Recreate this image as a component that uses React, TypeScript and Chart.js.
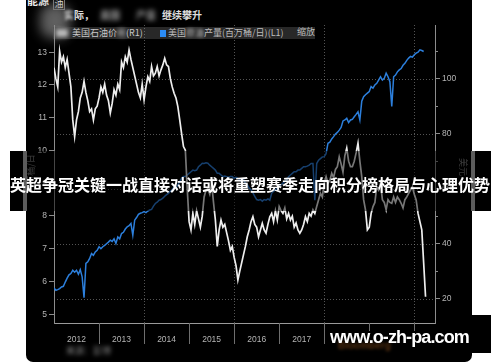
import React, { useEffect, useRef } from 'react';
import { Chart, registerables } from 'chart.js';

Chart.register(...registerables);

// ---- data (semi-monthly samples starting Jan 2012) ----
const START_YEAR = 2012;
const STEPS_PER_YEAR = 24;

// US oil price, USD (right axis, R1)
const oilPrice: number[] = [
  104, 100, 97, 110, 106, 108, 104, 107, 102, 97, 85, 79, 85, 88, 93, 95, 99, 95, 92, 88, 89, 85, 89, 90,
  93, 97, 95, 98, 94, 92, 87.5, 91, 96, 94, 98, 96, 106, 104, 108, 106, 110.4, 107, 104, 101, 98, 95, 93, 98,
  92.3, 97, 100.7, 99, 104.4, 101, 102, 104.4, 101, 103.2, 105, 107.4, 105, 104.4, 100, 97, 94.7, 93, 89.8, 85, 80, 75.3, 74, 60,
  48, 45, 51, 47, 52, 49, 46, 50, 57, 59.5, 60, 58, 62, 55, 48.6, 39, 45, 48.6, 46, 47, 44, 41, 37.6, 39,
  35, 32, 26.8, 30, 33, 36, 39, 42.5, 45, 48, 49.8, 47, 46, 42.5, 45, 47.4, 45, 43.8, 47, 49.8, 51, 48, 52, 48.6,
  53.5, 52, 51, 53, 49, 51, 48.6, 50, 46, 47.5, 45, 43.8, 45, 47, 49.8, 48, 51, 50, 52.3, 51, 53.5, 56, 58.3, 57,
  62, 64.4, 62, 63, 65.6, 64, 67, 68, 71.6, 69, 66, 72, 74.7, 70, 68, 68, 70, 73, 76.5, 70, 64.4, 56, 52.3, 45,
  46, 51, 53.5, 55, 60.7, 59.5, 62, 56, 55, 52.3, 56, 55, 54.7, 57, 55, 57, 56, 54.7, 53, 56, 57, 58.3, 59.5, 60.7,
  58, 55.9, 51, 48, 45, 33, 20.7,
];

// US crude output, million barrels/day (left axis, L1)
const crudeOutput: number[] = [
  5.8, 5.73, 5.75, 5.78, 5.83, 5.85, 5.98, 6.1, 6.2, 6.24, 6.34, 6.28, 6.34, 6.22, 6.36, 6.14, 5.5, 6.55, 6.6, 6.7, 6.85, 6.8, 6.9, 6.95,
  7.06, 7.0, 7.06, 7.1, 7.15, 7.2, 7.26, 7.22, 7.3, 7.16, 7.36, 7.3, 7.46, 7.5, 7.6, 7.67, 7.7, 7.77, 7.41, 7.87, 7.95, 8.05, 8.08, 8.1,
  8.13, 8.1, 8.15, 8.18, 8.2, 8.3, 8.38, 8.42, 8.48, 8.5, 8.54, 8.6, 8.65, 8.69, 8.75, 8.8, 8.89, 8.85, 8.95, 9.05, 9.15, 9.2, 9.2, 9.25,
  9.3, 9.35, 9.4, 9.38, 9.4, 9.5, 9.55, 9.61, 9.6, 9.62, 9.61, 9.55, 9.5, 9.45, 9.4, 9.3, 9.3, 9.25, 9.2, 9.22, 9.2, 9.18, 9.2, 9.2,
  9.15, 9.18, 9.15, 9.1, 9.05, 9.1, 9.0, 8.95, 8.85, 8.8, 8.7, 8.6, 8.5, 8.48, 8.5, 8.45, 8.5, 8.48, 8.52, 8.48, 8.69, 8.75, 8.8, 8.85,
  8.9, 8.95, 9.0, 9.05, 9.1, 9.2, 9.25, 9.3, 9.35, 9.35, 9.4, 9.4, 9.45, 9.5, 9.5, 9.52, 9.55, 9.6, 9.6, 8.48, 9.6, 9.7, 9.75, 9.8,
  9.81, 9.9, 10.22, 10.25, 10.35, 10.42, 10.5, 10.55, 10.62, 10.7, 10.9, 10.93, 10.98, 10.85, 10.93, 10.95, 11.03, 11.1, 11.18, 10.93, 11.5, 11.64, 11.7, 11.75,
  11.8, 11.95, 11.9, 12.0, 12.05, 12.15, 12.25, 12.15, 12.2, 12.36, 12.25, 12.1, 11.34, 12.25, 12.3, 12.4, 12.46, 12.5, 12.6, 12.66, 12.75, 12.82, 12.87, 12.85,
  12.92, 12.97, 13.0, 13.07, 13.05, 13.02,
];

const yearLabels = ['2012', '2013', '2014', '2015', '2016', '2017', '2018', '2019'];
const leftTicks = [5, 6, 7, 8, 9, 10, 11, 12, 13];
const rightTicks = [20, 40, 60, 80, 100];
const rightMinorTicks = [30, 50, 70, 90, 110];
const gridYears = [2014, 2016, 2018, 2020];
const separatorYears = [2013, 2014, 2015, 2016, 2017, 2018, 2019, 2020];

const AXIS_GRAY = '#8c8c8c';
const LABEL_GRAY = '#b4b4b4';
const tickFont = { family: '"Liberation Sans", Arial, sans-serif', size: 8.5 };

const decorPlugin = {
  id: 'decor',
  beforeDatasetsDraw(chart: any) {
    const { ctx, chartArea: a, scales } = chart;
    const xs = scales.x;
    const yR = scales.yR;
    ctx.save();
    ctx.strokeStyle = 'rgba(140,140,140,0.6)';
    ctx.lineWidth = 1;
    ctx.setLineDash([1, 2]);
    rightTicks.forEach((v) => {
      const py = Math.round(yR.getPixelForValue(v)) + 0.5;
      ctx.beginPath();
      ctx.moveTo(a.left, py);
      ctx.lineTo(a.right, py);
      ctx.stroke();
    });
    gridYears.forEach((yr) => {
      const px = Math.round(xs.getPixelForValue(yr)) + 0.5;
      ctx.beginPath();
      ctx.moveTo(px, a.top);
      ctx.lineTo(px, a.bottom);
      ctx.stroke();
    });
    ctx.restore();
  },
  afterDraw(chart: any) {
    const { ctx, chartArea: a, scales } = chart;
    const xs = scales.x;
    const yR = scales.yR;
    ctx.save();
    ctx.strokeStyle = AXIS_GRAY;
    ctx.lineWidth = 1;
    ctx.setLineDash([]);
    rightMinorTicks.forEach((v) => {
      const py = Math.round(yR.getPixelForValue(v)) + 0.5;
      ctx.beginPath();
      ctx.moveTo(a.right, py);
      ctx.lineTo(a.right + 3, py);
      ctx.stroke();
    });
    ctx.strokeStyle = '#6e6e6e';
    separatorYears.forEach((yr) => {
      const px = Math.round(xs.getPixelForValue(yr)) + 0.5;
      ctx.beginPath();
      ctx.moveTo(px, a.bottom);
      ctx.lineTo(px, a.bottom + 21);
      ctx.stroke();
    });
    ctx.restore();
  },
};

function ChartCanvas() {
  const ref = useRef<HTMLCanvasElement | null>(null);
  useEffect(() => {
    if (!ref.current) return;
    const toPoints = (arr: number[]) =>
      arr.map((v, i) => ({ x: START_YEAR + i / STEPS_PER_YEAR, y: v }));
    const chart = new Chart(ref.current, {
      type: 'line',
      data: {
        datasets: [
          {
            label: '美国石油价格(R1)',
            data: toPoints(oilPrice),
            yAxisID: 'yR',
            borderColor: '#eeeeee',
            borderWidth: 1.7,
            pointRadius: 0,
            tension: 0,
          },
          {
            label: '美国原油产量(百万桶/日)(L1)',
            data: toPoints(crudeOutput),
            yAxisID: 'yL',
            borderColor: '#2c7fdc',
            borderWidth: 1.5,
            pointRadius: 0,
            tension: 0,
          },
        ],
      },
      options: {
        animation: false,
        responsive: false,
        maintainAspectRatio: false,
        layout: { padding: { top: 25, left: 0, right: 0, bottom: 0 } },
        plugins: { legend: { display: false }, tooltip: { enabled: false } },
        scales: {
          x: {
            type: 'linear',
            min: 2012,
            max: 2020.46,
            afterFit: (s: any) => {
              s.height = 39;
            },
            afterBuildTicks: (s: any) => {
              s.ticks = yearLabels.map((_, i) => ({ value: START_YEAR + 0.5 + i }));
            },
            ticks: {
              autoSkip: false,
              maxRotation: 0,
              padding: 12,
              color: LABEL_GRAY,
              font: tickFont,
              callback: (_v: any, i: number) => yearLabels[i],
            },
            grid: { display: false, drawTicks: false },
            border: { display: true, color: '#9a9a9a', width: 1 },
          },
          yL: {
            type: 'linear',
            position: 'left',
            min: 4.73,
            max: 13.83,
            afterFit: (s: any) => {
              s.width = 54;
            },
            afterBuildTicks: (s: any) => {
              s.ticks = leftTicks.map((v) => ({ value: v }));
            },
            ticks: { color: LABEL_GRAY, font: tickFont, padding: 2 },
            grid: { drawOnChartArea: false, tickLength: 5, color: AXIS_GRAY },
            border: { display: true, color: AXIS_GRAY, width: 1 },
          },
          yR: {
            type: 'linear',
            position: 'right',
            min: 11.16,
            max: 119.5,
            afterFit: (s: any) => {
              s.width = 65;
            },
            afterBuildTicks: (s: any) => {
              s.ticks = rightTicks.map((v) => ({ value: v }));
            },
            ticks: { color: LABEL_GRAY, font: tickFont, padding: 2 },
            grid: { drawOnChartArea: false, tickLength: 5, color: AXIS_GRAY },
            border: { display: true, color: AXIS_GRAY, width: 1 },
          },
        },
      },
      plugins: [decorPlugin],
    });
    return () => chart.destroy();
  }, []);
  return <canvas ref={ref} width={500} height={362} style={{ display: 'block', width: 500, height: 362 }} />;
}

const cjk = '"Noto Sans CJK SC", "Noto Sans", sans-serif';
const abs = (s: React.CSSProperties): React.CSSProperties => ({ position: 'absolute', ...s });

export default function App() {
  return (
    <div style={abs({ left: 0, top: 0, width: 500, height: 362, overflow: 'hidden', background: '#fff' })}>
      {/* dark panel */}
      <div style={abs({ left: 26, top: 0, width: 446, height: 362, background: '#000', borderRadius: '0 0 7px 7px' })} />

      {/* top title (partly blurred in source) */}
      <div style={abs({ left: 27, top: -8, color: '#eee', fontFamily: cjk, fontSize: 11, fontWeight: 700, whiteSpace: 'nowrap' })}>能源</div>
      <div style={abs({ left: 53, top: -3, width: 10, height: 11, border: '1px solid #777', color: '#eee', fontFamily: cjk, fontSize: 9, lineHeight: '11px', textAlign: 'center' })}>油</div>
      <div style={abs({ left: 40, top: 4, width: 30, height: 34, background: '#777', borderRadius: 12, filter: 'blur(6px)', opacity: 0.8 })} />
      <div style={abs({ left: 64, top: 8, color: '#ddd', fontFamily: cjk, fontSize: 10, fontWeight: 700, whiteSpace: 'nowrap', lineHeight: '14px' })}>
        <span style={{ filter: 'blur(1.5px)' }}>实</span>际，
      </div>
      <div style={abs({ left: 100, top: 8, color: '#aaa', fontFamily: cjk, fontSize: 10, fontWeight: 700, whiteSpace: 'nowrap', lineHeight: '14px', filter: 'blur(2.5px)' })}>美国</div>
      <div style={abs({ left: 136, top: 8, color: '#999', fontFamily: cjk, fontSize: 10, fontWeight: 700, whiteSpace: 'nowrap', lineHeight: '14px', filter: 'blur(2.5px)' })}>产量</div>
      <div style={abs({ left: 162, top: 8, color: '#ddd', fontFamily: cjk, fontSize: 10, fontWeight: 700, whiteSpace: 'nowrap', lineHeight: '14px' })}>继续攀升</div>

      {/* legend strip */}
      <div style={abs({ left: 53, top: 27, width: 262, height: 12, background: 'rgba(72,72,72,0.55)' })} />
      <div style={abs({ left: 56, top: 29, width: 12, height: 8, background: '#bbb', filter: 'blur(2px)' })} />
      <div style={abs({ left: 72, top: 27, color: '#c8c8c8', fontFamily: cjk, fontSize: 9, lineHeight: '12px', whiteSpace: 'nowrap' })}>
        美国石油价<span style={{ filter: 'blur(2px)' }}>格</span>(R1)
      </div>
      <div style={abs({ left: 160, top: 30, width: 6, height: 7, background: '#2b8cf5' })} />
      <div style={abs({ left: 168, top: 27, color: '#bdbdbd', fontFamily: cjk, fontSize: 9, lineHeight: '12px', whiteSpace: 'nowrap' })}>
        美国<span style={{ filter: 'blur(1.5px)' }}>原油</span>产量(百万桶/日)(L1)
      </div>
      <div style={abs({ left: 297, top: 26, color: '#bdbdbd', fontFamily: cjk, fontSize: 9, lineHeight: '12px', whiteSpace: 'nowrap' })}>缩放</div>

      {/* chart */}
      <div style={abs({ left: 0, top: 0, width: 500, height: 362 })}>
        <ChartCanvas />
      </div>

      {/* axis titles */}
      <div style={abs({ left: 31 - 30, top: 174 - 6, width: 60, height: 12, transform: 'rotate(-90deg)', color: '#777', fontFamily: cjk, fontSize: 9, lineHeight: '12px', textAlign: 'center', whiteSpace: 'nowrap' })}>百万桶/日</div>
      <div style={abs({ left: 463 - 20, top: 167 - 6, width: 40, height: 12, transform: 'rotate(90deg)', color: '#777', fontFamily: cjk, fontSize: 9, lineHeight: '12px', textAlign: 'center', whiteSpace: 'nowrap' })}>美元</div>

      {/* bottom-left blurred source */}
      <div style={abs({ left: 66, top: 344, color: '#888', fontFamily: cjk, fontSize: 9, whiteSpace: 'nowrap', filter: 'blur(2px)' })}>来源：彭博</div>

      {/* headline banner */}
      <div style={abs({ left: 26, top: 151, width: 446, height: 60, background: 'rgba(0,0,0,0.5)' })} />
      <div style={abs({ left: 10, top: 151, width: 16, height: 60, background: '#000' })} />
      <div style={abs({ left: 23, top: 151, width: 4, height: 60, background: '#5c5c5c' })} />
      <div style={abs({ left: 472, top: 151, width: 19, height: 60, background: '#000' })} />
      <div style={abs({ left: 471, top: 151, width: 4, height: 60, background: '#5c5c5c' })} />
      <div style={abs({ left: 10, top: 174, height: 20, color: '#fff', fontFamily: cjk, fontSize: 16, fontWeight: 700, lineHeight: '20px', whiteSpace: 'nowrap' })}>
        英超争冠关键一战直接对话或将重塑赛季走向积分榜格局与心理优势
      </div>

      {/* watermark */}
      <div style={abs({ left: 326, top: 331, width: 146, height: 22, background: '#000' })} />
      <div style={abs({ left: 472, top: 315, width: 19, height: 38, background: '#000' })} />
      <div style={abs({ left: 338, top: 340, color: '#5a3312', fontFamily: '"Liberation Sans", Arial, sans-serif', fontSize: 10, fontWeight: 700, filter: 'blur(1.5px)' })}>Bloomberg</div>
      <div style={abs({ left: 330, top: 326, color: '#fff', fontFamily: '"Liberation Sans", Arial, sans-serif', fontSize: 18, fontWeight: 700, letterSpacing: -0.9, lineHeight: '22px', whiteSpace: 'nowrap' })}>
        www.o-zh-pa.com
      </div>
    </div>
  );
}
